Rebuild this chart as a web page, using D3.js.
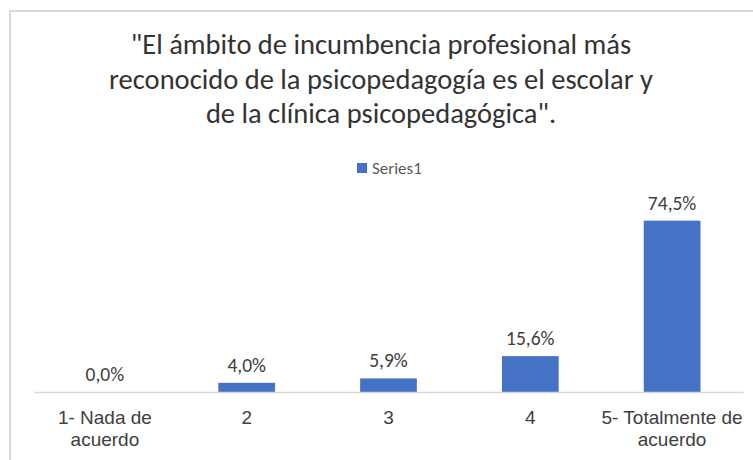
<!DOCTYPE html>
<html>
<head>
<meta charset="utf-8">
<script src="https://cdn.jsdelivr.net/npm/d3@7"></script>
<style>
  body { margin: 0; background: #fff; }
  svg { display: block; font-family: Calibri, Carlito, "Liberation Sans", Arial, sans-serif; }
</style>
</head>
<body>
<svg id="chart"></svg>
<script>
const titleLines = [
  "\"El ámbito de incumbencia profesional más",
  "reconocido de la psicopedagogía es el escolar y",
  "de la clínica psicopedagógica\"."
];
const seriesName = "Series1";
const categories = ["1- Nada de acuerdo", "2", "3", "4", "5- Totalmente de acuerdo"];
// tick labels as they wrap in the original
const tickLines = [["1- Nada de", "acuerdo"], ["2"], ["3"], ["4"], ["5- Totalmente de", "acuerdo"]];
const values = [0.0, 4.0, 5.9, 15.6, 74.5];

const width = 753;
const height = 460;
const margin = { left: 34, right: 10, axisY: 392, plotTop: 208 };
const barColor = "#4472C4";

const svg = d3.select("#chart").attr("width", width).attr("height", height);

svg.append("rect").attr("width", width).attr("height", height).attr("fill", "#fff");

// chart area border (only top and left visible)
svg.append("path")
  .attr("d", "M10," + height + "V11H" + width)
  .attr("fill", "none")
  .attr("stroke", "#d9d9d9")
  .attr("stroke-width", 2);

// title
svg.append("text")
  .attr("text-anchor", "middle")
  .attr("fill", "#333")
  .style("font-size", "28.5px")
  .selectAll("tspan")
  .data(titleLines)
  .join("tspan")
  .attr("x", 381)
  .attr("y", (d, i) => 54 + i * 34.5)
  .text(d => d);

// legend
const legend = svg.append("g").attr("transform", "translate(357,163)");
legend.append("rect").attr("width", 10).attr("height", 10).attr("fill", barColor);
legend.append("text")
  .attr("x", 15)
  .attr("y", 11)
  .attr("fill", "#595959")
  .style("font-size", "17px")
  .text(seriesName);

const x = d3.scaleBand()
  .domain(categories)
  .range([margin.left, width - margin.right])
  .paddingInner(0.6)
  .paddingOuter(0.3);

const y = d3.scaleLinear()
  .domain([0, 80])
  .range([margin.axisY, margin.plotTop]);

// bars
svg.append("g")
  .selectAll("rect")
  .data(values)
  .join("rect")
  .attr("x", (d, i) => x(categories[i]))
  .attr("y", d => y(d))
  .attr("width", x.bandwidth())
  .attr("height", d => y(0) - y(d))
  .attr("fill", barColor);

// data labels
svg.append("g")
  .selectAll("text")
  .data(values)
  .join("text")
  .attr("x", (d, i) => x(categories[i]) + x.bandwidth() / 2)
  .attr("y", d => y(d) - 11)
  .attr("text-anchor", "middle")
  .attr("fill", "#404040")
  .style("font-size", "19.5px")
  .text(d => d.toFixed(1).replace(".", ",") + "%");

// category axis
const xAxis = svg.append("g")
  .attr("transform", "translate(0," + margin.axisY + ")")
  .call(d3.axisBottom(x).tickSize(0).tickSizeOuter(0));

xAxis.select(".domain").attr("stroke", "#d9d9d9").attr("stroke-width", 1.5);

xAxis.selectAll(".tick text")
  .attr("fill", "#404040")
  .style("font-size", "19px")
  .style("font-family", "inherit")
  .attr("y", 0)
  .attr("dy", null)
  .each(function (d, i) {
    const text = d3.select(this).text(null);
    tickLines[i].forEach((l, j) => {
      text.append("tspan").attr("x", 0).attr("y", 32 + j * 21.5).text(l);
    });
  });
</script>
</body>
</html>
